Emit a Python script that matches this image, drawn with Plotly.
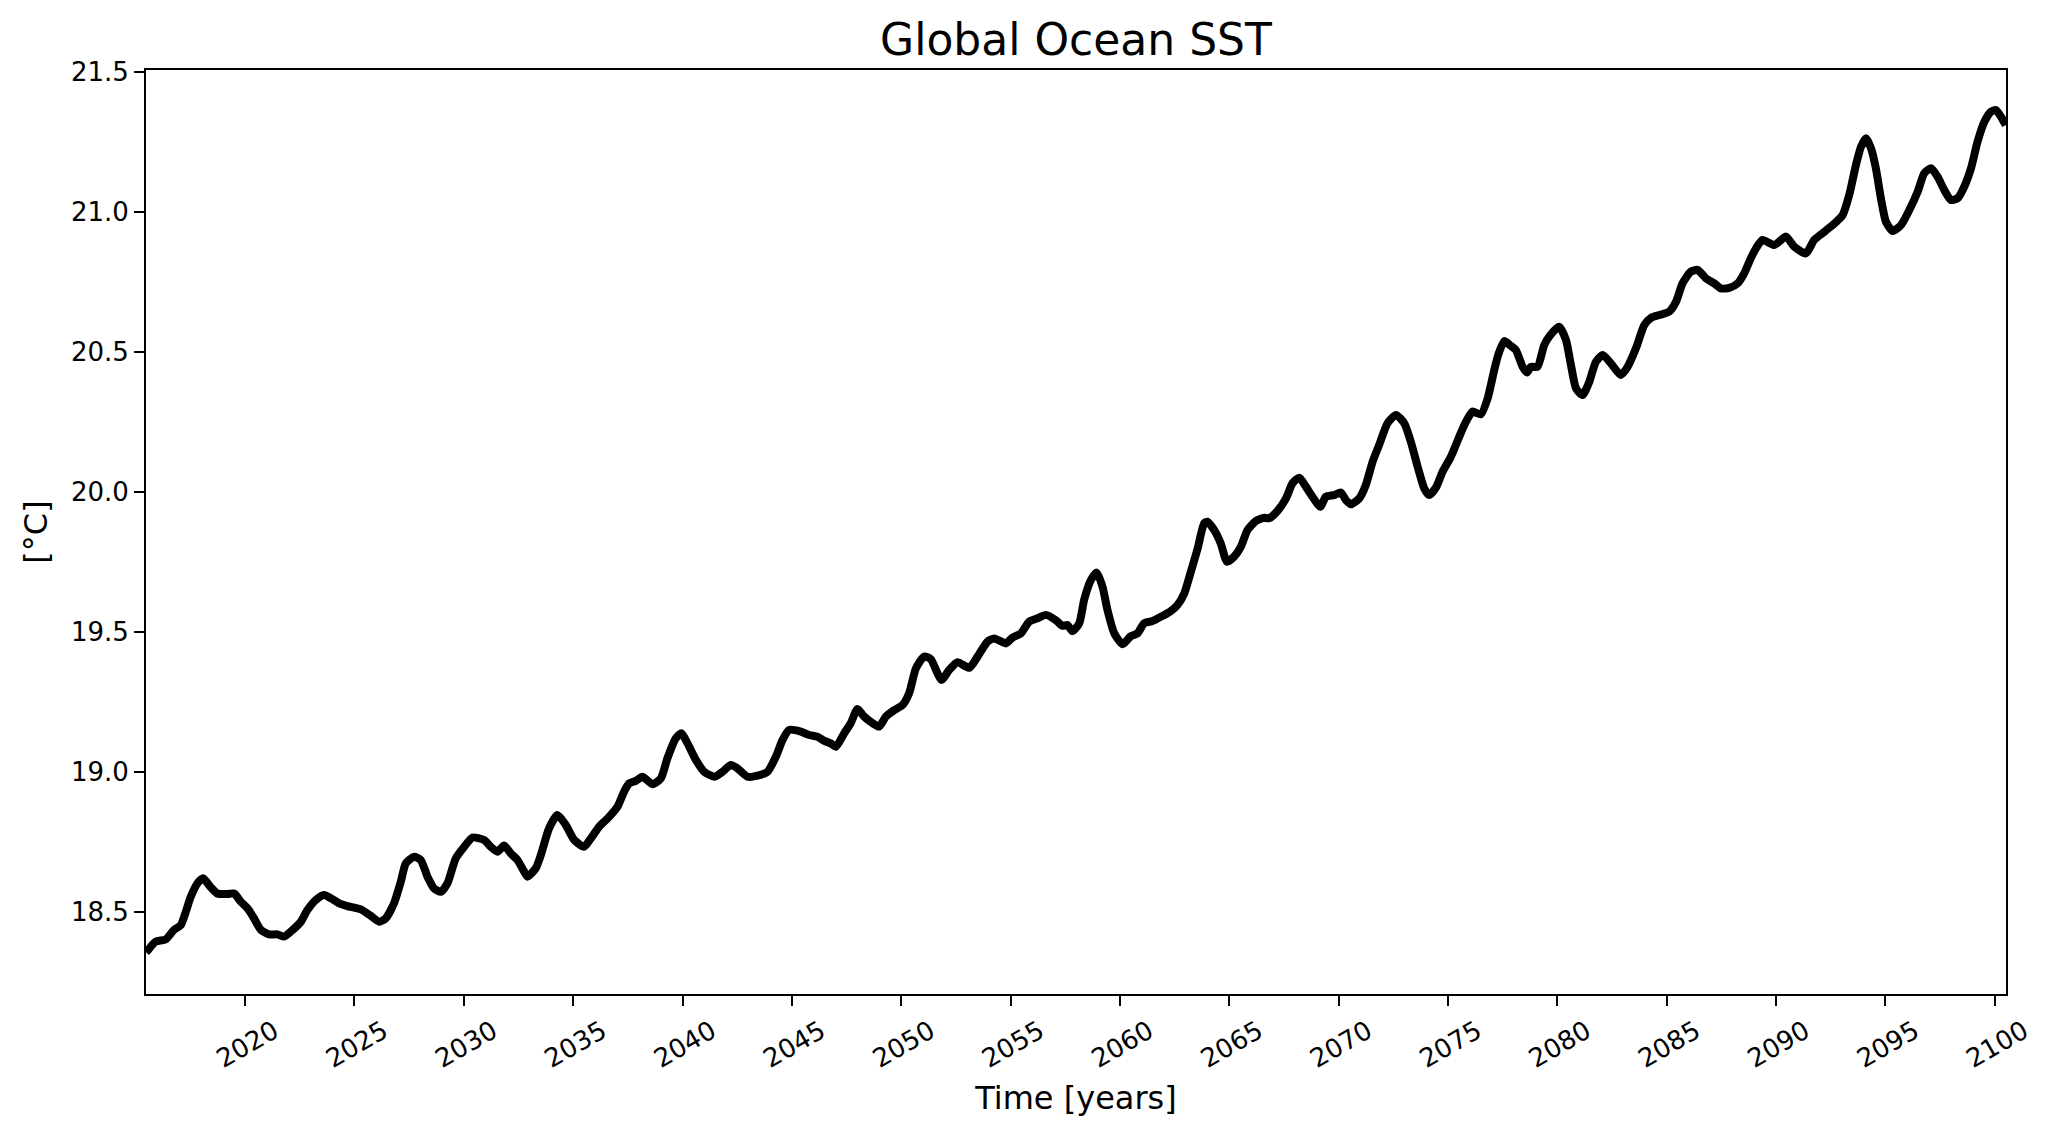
import plotly.graph_objects as go

# decimal years and SST values
years = [
    2015.47, 2015.53, 2015.91, 2016.37, 2016.75, 2017.06, 2017.52, 2017.82, 2018.08, 2018.43,
    2018.73, 2019.19, 2019.50, 2019.80, 2020.11, 2020.41, 2020.72, 2021.10, 2021.48, 2021.78,
    2022.09, 2022.55, 2022.85, 2023.23, 2023.61, 2023.92, 2024.30, 2024.68, 2025.29, 2025.75,
    2026.13, 2026.43, 2026.81, 2027.12, 2027.35, 2027.73, 2028.03, 2028.34, 2028.64, 2028.95,
    2029.25, 2029.63, 2030.02, 2030.40, 2030.93, 2031.23, 2031.54, 2031.84, 2032.15, 2032.45,
    2032.76, 2032.91, 2033.29, 2033.52, 2033.90, 2034.28, 2034.66, 2035.05, 2035.50, 2035.81,
    2036.19, 2036.60, 2037.03, 2037.33, 2037.56, 2037.86, 2038.17, 2038.63, 2039.01, 2039.31,
    2039.69, 2039.95, 2040.23, 2040.61, 2040.99, 2041.45, 2041.83, 2042.21, 2042.51, 2042.97,
    2043.43, 2043.89, 2044.27, 2044.57, 2044.88, 2045.41, 2045.79, 2046.17, 2046.48, 2046.78,
    2047.01, 2047.39, 2047.69, 2048.00, 2048.30, 2048.69, 2048.99, 2049.30, 2049.68, 2050.06,
    2050.36, 2050.67, 2051.05, 2051.35, 2051.66, 2051.84, 2052.19, 2052.57, 2053.11, 2053.49,
    2053.94, 2054.25, 2054.78, 2055.09, 2055.47, 2055.85, 2056.23, 2056.61, 2057.07, 2057.37,
    2057.60, 2057.83, 2058.14, 2058.36, 2058.67, 2058.94, 2059.20, 2059.43, 2059.74, 2060.12,
    2060.50, 2060.80, 2061.11, 2061.49, 2061.87, 2062.33, 2062.63, 2062.94, 2063.24, 2063.55,
    2063.85, 2064.00, 2064.31, 2064.61, 2064.89, 2065.22, 2065.53, 2065.83, 2066.21, 2066.60,
    2066.82, 2067.20, 2067.59, 2067.89, 2068.20, 2068.50, 2068.80, 2069.16, 2069.41, 2069.79,
    2070.10, 2070.33, 2070.56, 2070.94, 2071.24, 2071.55, 2071.85, 2072.23, 2072.62, 2073.00,
    2073.30, 2073.61, 2073.91, 2074.14, 2074.44, 2074.75, 2075.13, 2075.51, 2075.82, 2076.12,
    2076.50, 2076.81, 2077.11, 2077.30, 2077.57, 2077.87, 2078.10, 2078.41, 2078.61, 2078.79,
    2079.09, 2079.40, 2079.67, 2080.08, 2080.39, 2080.62, 2080.85, 2081.15, 2081.46, 2081.76,
    2082.07, 2082.45, 2082.90, 2083.21, 2083.59, 2083.97, 2084.28, 2084.66, 2085.11, 2085.42,
    2085.72, 2086.10, 2086.41, 2086.79, 2087.17, 2087.48, 2087.86, 2088.24, 2088.54, 2088.85,
    2089.08, 2089.38, 2089.92, 2090.45, 2090.83, 2091.36, 2091.74, 2092.12, 2092.58, 2093.04,
    2093.34, 2093.65, 2093.88, 2094.11, 2094.34, 2094.56, 2094.79, 2095.02, 2095.33, 2095.71,
    2096.09, 2096.47, 2096.77, 2097.08, 2097.38, 2097.69, 2097.99, 2098.30, 2098.60, 2098.91,
    2099.21, 2099.52, 2099.82, 2100.05, 2100.28, 2100.50,
]
sst = [
    18.355, 18.360, 18.393, 18.401, 18.435, 18.452, 18.554, 18.601, 18.619, 18.587,
    18.565, 18.563, 18.565, 18.536, 18.512, 18.476, 18.435, 18.419, 18.419, 18.411,
    18.429, 18.464, 18.506, 18.542, 18.560, 18.548, 18.530, 18.520, 18.508, 18.485,
    18.464, 18.476, 18.530, 18.607, 18.673, 18.696, 18.685, 18.625, 18.583, 18.571,
    18.601, 18.690, 18.732, 18.765, 18.756, 18.732, 18.714, 18.736, 18.708, 18.685,
    18.643, 18.625, 18.655, 18.702, 18.798, 18.845, 18.810, 18.756, 18.732, 18.762,
    18.804, 18.835, 18.875, 18.929, 18.958, 18.967, 18.982, 18.955, 18.976, 19.048,
    19.119, 19.137, 19.101, 19.042, 19.000, 18.982, 19.000, 19.024, 19.012, 18.982,
    18.986, 19.000, 19.054, 19.113, 19.149, 19.143, 19.131, 19.125, 19.110, 19.101,
    19.089, 19.137, 19.173, 19.224, 19.197, 19.173, 19.161, 19.197, 19.220, 19.238,
    19.280, 19.369, 19.411, 19.402, 19.351, 19.327, 19.363, 19.391, 19.371, 19.411,
    19.464, 19.476, 19.458, 19.479, 19.494, 19.536, 19.548, 19.560, 19.541, 19.521,
    19.524, 19.502, 19.530, 19.613, 19.684, 19.711, 19.661, 19.577, 19.494, 19.455,
    19.484, 19.494, 19.530, 19.538, 19.553, 19.574, 19.595, 19.637, 19.714, 19.797,
    19.887, 19.893, 19.863, 19.815, 19.750, 19.768, 19.804, 19.863, 19.895, 19.907,
    19.905, 19.931, 19.976, 20.030, 20.050, 20.018, 19.982, 19.946, 19.982, 19.988,
    19.997, 19.970, 19.955, 19.976, 20.024, 20.107, 20.167, 20.244, 20.274, 20.244,
    20.178, 20.089, 20.012, 19.988, 20.014, 20.071, 20.125, 20.196, 20.250, 20.286,
    20.276, 20.333, 20.434, 20.490, 20.538, 20.521, 20.506, 20.446, 20.426, 20.446,
    20.446, 20.524, 20.559, 20.589, 20.542, 20.452, 20.369, 20.345, 20.393, 20.464,
    20.488, 20.458, 20.417, 20.446, 20.512, 20.595, 20.621, 20.631, 20.643, 20.678,
    20.744, 20.786, 20.792, 20.762, 20.744, 20.726, 20.728, 20.744, 20.780, 20.835,
    20.869, 20.899, 20.881, 20.911, 20.875, 20.851, 20.899, 20.923, 20.952, 20.988,
    21.059, 21.167, 21.232, 21.262, 21.226, 21.155, 21.048, 20.964, 20.931, 20.952,
    21.006, 21.071, 21.137, 21.155, 21.125, 21.077, 21.042, 21.048, 21.089, 21.155,
    21.250, 21.321, 21.357, 21.363, 21.339, 21.309,
]

year_ticks = list(range(2020, 2101, 5))
sst_ticks = [18.5, 19.0, 19.5, 20.0, 20.5, 21.0, 21.5]

font = "DejaVu Sans"
W, H = 2036, 1121

fig = go.Figure()
fig.add_trace(go.Scatter(
    x=years, y=sst,
    mode="lines",
    line=dict(color="black", width=8, shape="spline", smoothing=0.6),
    showlegend=False,
    hoverinfo="x+y",
))

fig.update_layout(
    width=W, height=H,
    margin=dict(l=138, r=38, t=62, b=135),
    paper_bgcolor="white",
    plot_bgcolor="white",
    font=dict(family=font, color="black", size=26),
    title=dict(
        text="Global Ocean SST",
        x=0.5, xanchor="center", xref="paper",
        y=1 - 31.5 / H, yanchor="middle", yref="container",
        font=dict(size=44, family=font, color="black"),
    ),
)

fig.update_xaxes(
    range=[2015.47, 2100.51],
    tickmode="array",
    tickvals=year_ticks,
    ticktext=[str(y) for y in year_ticks],
    tickangle=-30,
    ticklabelshift=29,
    ticks="outside", ticklen=10, tickwidth=2, tickcolor="black",
    tickfont=dict(size=26, family=font),
    showline=True, linecolor="black", linewidth=2, mirror=True,
    showgrid=False, zeroline=False,
    title=dict(text="Time [years]", font=dict(size=32, family=font), standoff=14),
)
fig.update_yaxes(
    range=[18.206, 21.506],
    tickmode="array",
    tickvals=sst_ticks,
    ticktext=["%.1f" % v for v in sst_ticks],
    ticks="outside", ticklen=10, tickwidth=2, tickcolor="black",
    tickfont=dict(size=26, family=font),
    showline=True, linecolor="black", linewidth=2, mirror=True,
    showgrid=False, zeroline=False,
    title=dict(text="[°C]", font=dict(size=32, family=font), standoff=14),
)

fig.write_html("out.html")
